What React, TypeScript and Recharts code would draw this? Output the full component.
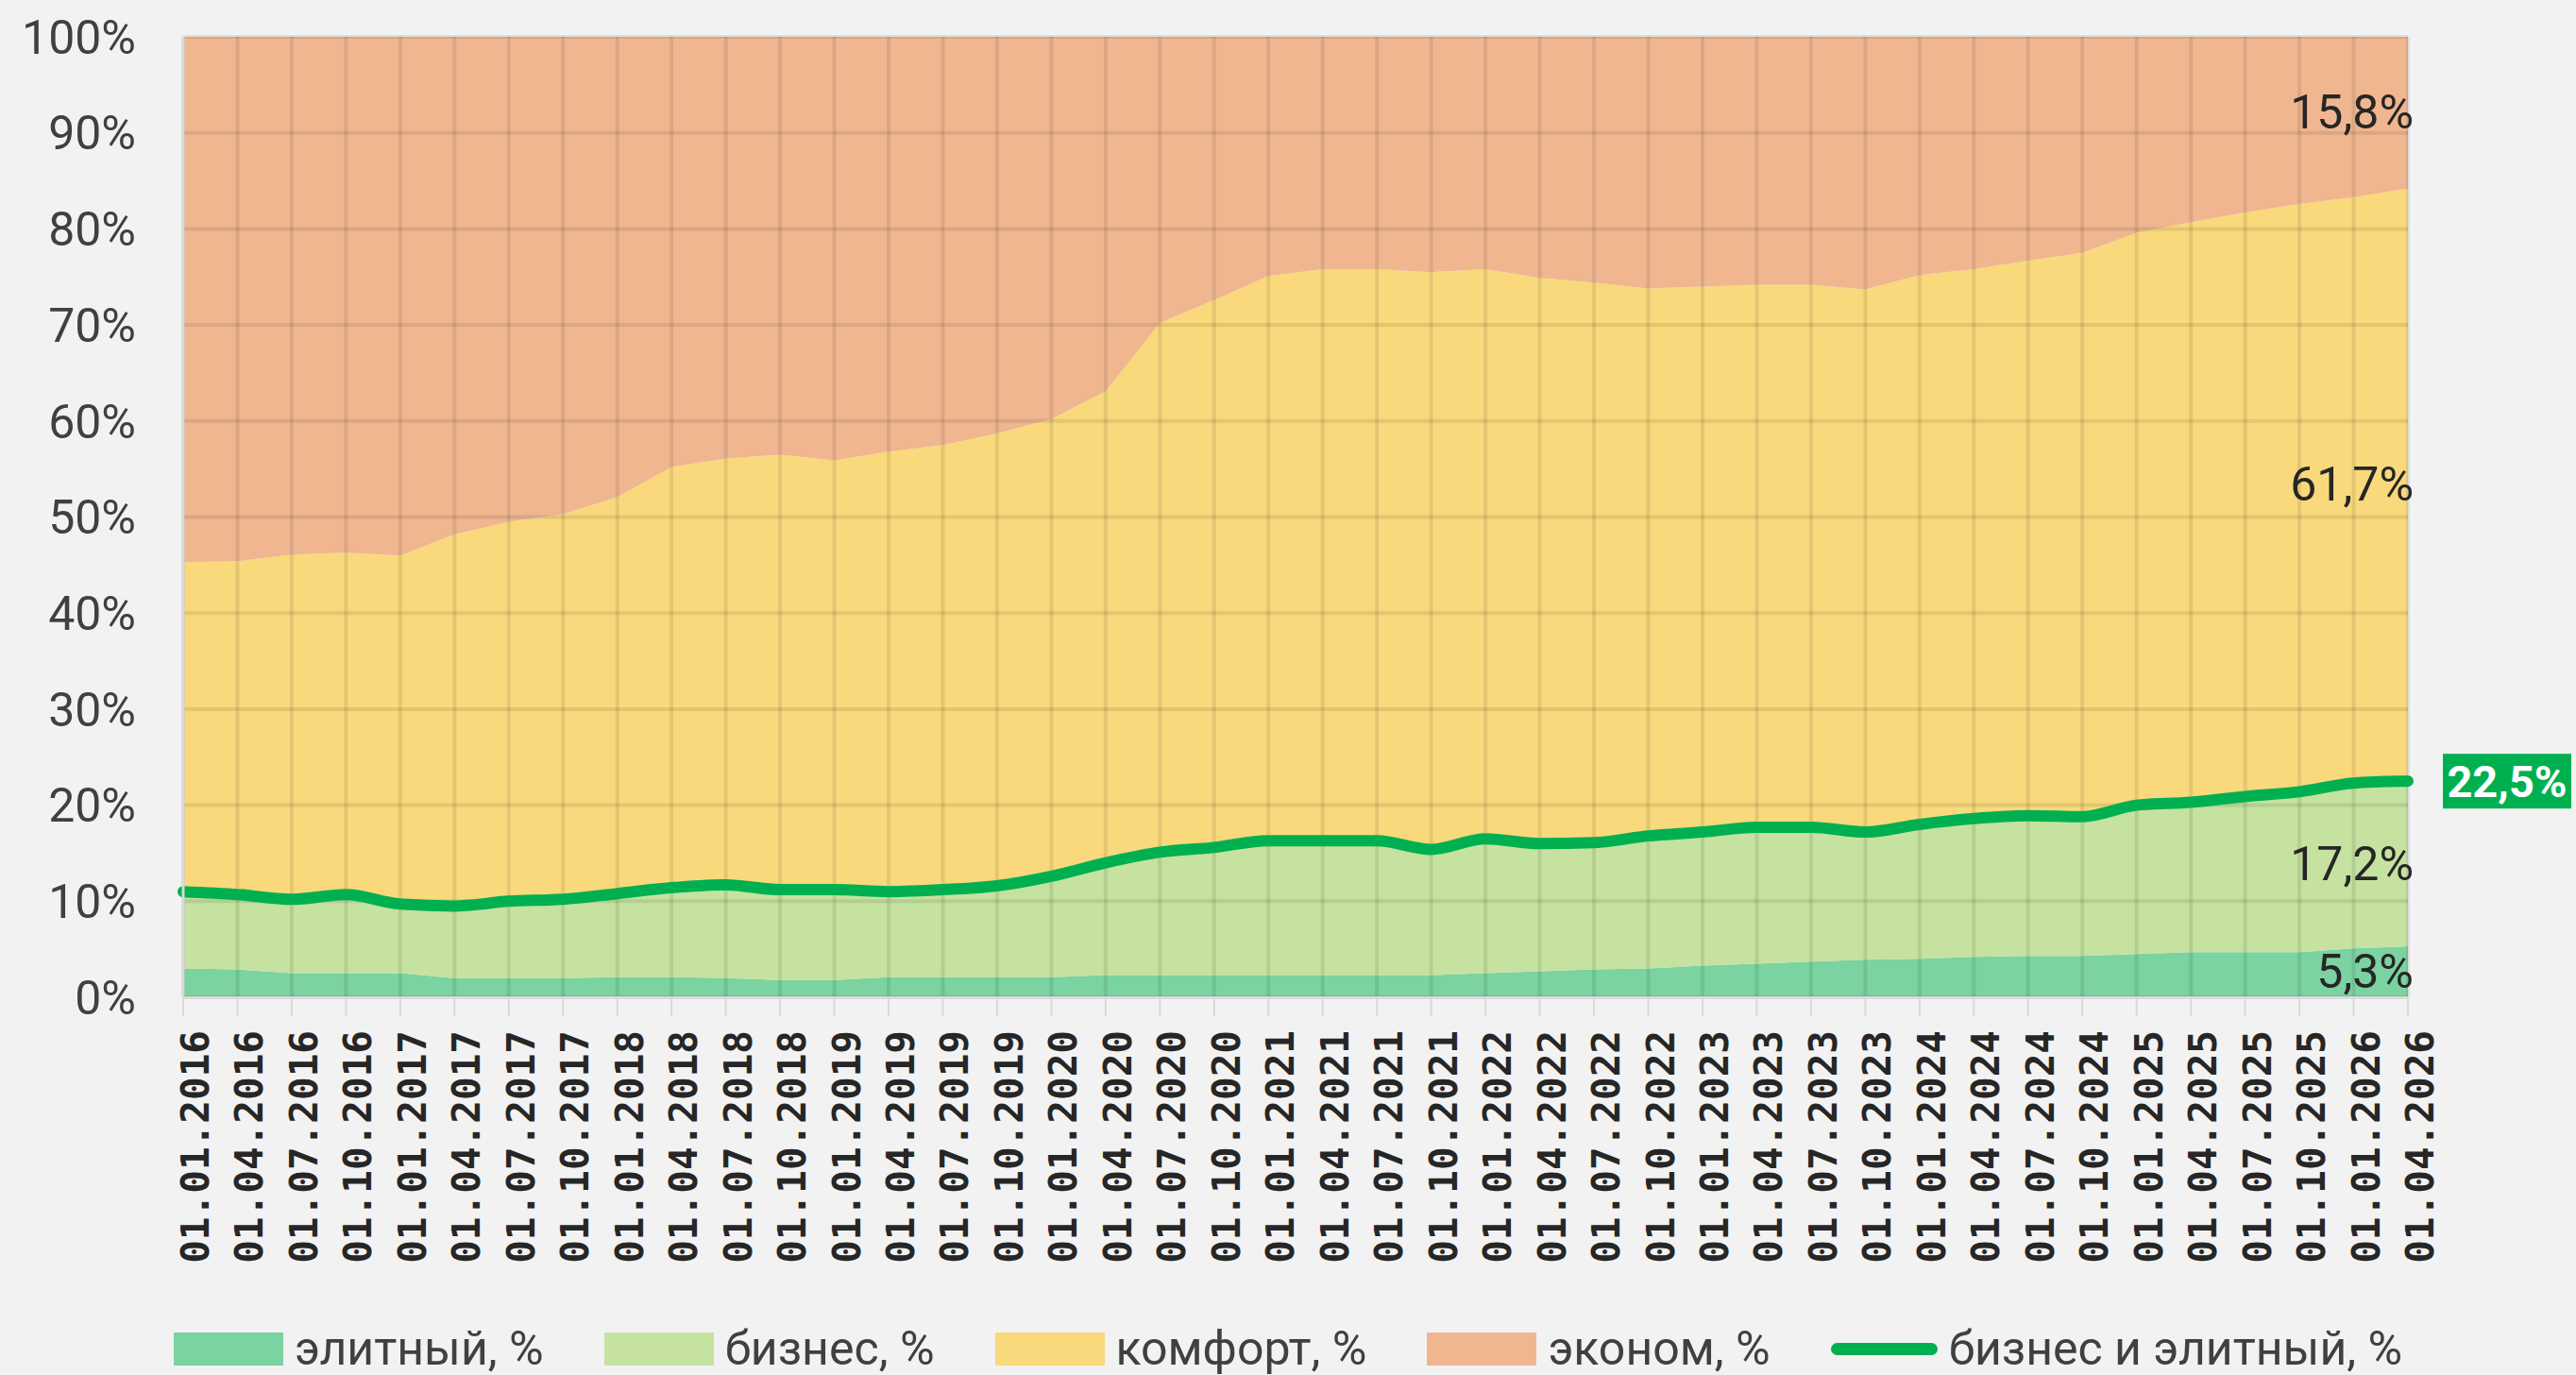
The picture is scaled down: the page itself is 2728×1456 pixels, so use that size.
import { Area, CartesianGrid, ComposedChart, Label, Legend, Line, ReferenceDot, XAxis, YAxis } from 'recharts';

const dates = [
  '01.01.2016', '01.04.2016', '01.07.2016', '01.10.2016',
  '01.01.2017', '01.04.2017', '01.07.2017', '01.10.2017',
  '01.01.2018', '01.04.2018', '01.07.2018', '01.10.2018',
  '01.01.2019', '01.04.2019', '01.07.2019', '01.10.2019',
  '01.01.2020', '01.04.2020', '01.07.2020', '01.10.2020',
  '01.01.2021', '01.04.2021', '01.07.2021', '01.10.2021',
  '01.01.2022', '01.04.2022', '01.07.2022', '01.10.2022',
  '01.01.2023', '01.04.2023', '01.07.2023', '01.10.2023',
  '01.01.2024', '01.04.2024', '01.07.2024', '01.10.2024',
  '01.01.2025', '01.04.2025', '01.07.2025', '01.10.2025',
  '01.01.2026', '01.04.2026',
];

const elite = [3.0, 2.9, 2.5, 2.5, 2.5, 2.0, 2.0, 2.0, 2.1, 2.1, 2.0, 1.8, 1.8, 2.1, 2.1, 2.1, 2.1, 2.3, 2.3, 2.3, 2.3, 2.3, 2.3, 2.3, 2.5, 2.7, 2.9, 3.0, 3.3, 3.5, 3.7, 3.9, 4.0, 4.2, 4.3, 4.3, 4.5, 4.7, 4.7, 4.7, 5.1, 5.3];
const business = [8.0, 7.8, 7.7, 8.2, 7.2, 7.5, 8.0, 8.2, 8.7, 9.3, 9.7, 9.4, 9.4, 8.9, 9.1, 9.5, 10.5, 11.7, 12.8, 13.3, 14.0, 14.0, 14.0, 13.1, 14.0, 13.3, 13.2, 13.8, 13.9, 14.2, 14.0, 13.3, 14.0, 14.4, 14.6, 14.5, 15.5, 15.6, 16.2, 16.7, 17.2, 17.2];
const comfort = [34.3, 34.7, 35.9, 35.6, 36.3, 38.7, 39.5, 40.1, 41.3, 43.8, 44.4, 45.3, 44.7, 45.8, 46.3, 47.1, 47.6, 49.1, 55.1, 57.0, 58.8, 59.5, 59.5, 60.1, 59.3, 58.9, 58.3, 57.0, 56.8, 56.5, 56.5, 56.5, 57.2, 57.2, 57.8, 58.7, 59.6, 60.4, 60.8, 61.2, 61.0, 61.7];
const economy = [54.7, 54.6, 53.9, 53.7, 54.0, 51.8, 50.5, 49.7, 47.9, 44.8, 43.9, 43.5, 44.1, 43.2, 42.5, 41.3, 39.8, 36.9, 29.8, 27.4, 24.9, 24.2, 24.2, 24.5, 24.2, 25.1, 25.6, 26.2, 26.0, 25.8, 25.8, 26.3, 24.8, 24.2, 23.3, 22.5, 20.4, 19.3, 18.3, 17.4, 16.7, 15.8];
const businessElite = [11.0, 10.7, 10.2, 10.7, 9.7, 9.5, 10.0, 10.2, 10.8, 11.4, 11.7, 11.2, 11.2, 11.0, 11.2, 11.6, 12.6, 14.0, 15.1, 15.6, 16.3, 16.3, 16.3, 15.4, 16.5, 16.0, 16.1, 16.8, 17.2, 17.7, 17.7, 17.2, 18.0, 18.6, 18.9, 18.8, 20.0, 20.3, 20.9, 21.4, 22.3, 22.5];

const yTicks = [0, 10, 20, 30, 40, 50, 60, 70, 80, 90, 100];

const seriesNames = {
  elite: 'элитный, %',
  business: 'бизнес, %',
  comfort: 'комфорт, %',
  economy: 'эконом, %',
  businessElite: 'бизнес и элитный, %',
};

const colors = {
  elite: '#7AD3A0',
  business: '#C5E2A0',
  comfort: '#F9D97C',
  economy: '#F0B690',
  businessElite: '#00B050',
};

const FONT = 'Roboto, "Noto Sans", sans-serif';

const rows = dates.map((date, i) => ({
  date,
  elite: elite[i],
  business: business[i],
  comfort: comfort[i],
  economy: economy[i],
  businessElite: businessElite[i],
}));

const last = dates.length - 1;
const fmt = (v: number) => v.toFixed(1).replace('.', ',') + '%';

// centre of each stacked band on the last date
const bandLabels = [
  { key: 'elite', value: elite[last], mid: elite[last] / 2 },
  { key: 'business', value: business[last], mid: elite[last] + business[last] / 2 },
  { key: 'comfort', value: comfort[last], mid: elite[last] + business[last] + comfort[last] / 2 },
  { key: 'economy', value: economy[last], mid: 100 - economy[last] / 2 },
];

const DateTick = ({ x, y, payload }: any) => (
  <g transform={`translate(${x},${y})`}>
    <text transform="rotate(-90)" textAnchor="end" dy={27} fontSize={41} fontWeight="bold" fontFamily='"DejaVu Sans Mono", monospace' fill="#262626">
      {payload.value}
    </text>
  </g>
);

const renderLineLabel = (props: any) => {
  const { x, y, index, value } = props;
  if (index !== last) return null;
  return (
    <g>
      <rect x={x + 37} y={y - 29} width={136} height={58} fill={colors.businessElite} />
      <text x={x + 105} y={y} textAnchor="middle" dominantBaseline="central" fill="#fff" fontWeight="bold" fontSize={47} fontFamily={FONT}>
        {fmt(value)}
      </text>
    </g>
  );
};

const LegendBox = () => {
  const items: { key: keyof typeof colors; line?: boolean }[] = [
    { key: 'elite' },
    { key: 'business' },
    { key: 'comfort' },
    { key: 'economy' },
    { key: 'businessElite', line: true },
  ];
  return (
    <div style={{ display: 'flex', justifyContent: 'center', alignItems: 'center', height: 56, fontFamily: FONT, fontSize: 50, color: '#404040' }}>
      {items.map((it, i) => (
        <div key={it.key} style={{ display: 'flex', alignItems: 'center', marginLeft: i === 0 ? 0 : 64 }}>
          {it.line ? (
            <div style={{ width: 113, height: 13, borderRadius: 7, background: colors[it.key] }} />
          ) : (
            <div style={{ width: 116, height: 35, background: colors[it.key] }} />
          )}
          <span style={{ marginLeft: 12 }}>{seriesNames[it.key]}</span>
        </div>
      ))}
    </div>
  );
};

export default function App() {
  return (
    <div style={{ position: 'absolute', left: 0, top: 0, width: 2728, height: 1456, background: '#F2F2F2' }}>
      <ComposedChart width={2728} height={1456} data={rows} margin={{ top: 39, right: 178, bottom: 0, left: 0 }}>
        <XAxis
          dataKey="date"
          interval={0}
          height={344}
          tickSize={20}
          tickMargin={15}
          tickLine={{ stroke: '#D9D9D9', strokeWidth: 2 }}
          axisLine={{ stroke: '#D9D9D9', strokeWidth: 2 }}
          tick={<DateTick />}
        />
        <YAxis
          domain={[0, 100]}
          ticks={yTicks}
          allowDataOverflow
          width={194}
          tickFormatter={(v) => `${v}%`}
          tickLine={false}
          tickSize={0}
          tickMargin={50}
          axisLine={{ stroke: '#D9D9D9', strokeWidth: 3 }}
          tick={{ fontSize: 50, fill: '#404040', fontFamily: FONT }}
        />
        <Area dataKey="elite" name={seriesNames.elite} stackId="s" type="linear" fill={colors.elite} fillOpacity={1} stroke="none" isAnimationActive={false} activeDot={false} />
        <Area dataKey="business" name={seriesNames.business} stackId="s" type="linear" fill={colors.business} fillOpacity={1} stroke="none" isAnimationActive={false} activeDot={false} />
        <Area dataKey="comfort" name={seriesNames.comfort} stackId="s" type="linear" fill={colors.comfort} fillOpacity={1} stroke="none" isAnimationActive={false} activeDot={false} />
        <Area dataKey="economy" name={seriesNames.economy} stackId="s" type="linear" fill={colors.economy} fillOpacity={1} stroke="none" isAnimationActive={false} activeDot={false} />
        <CartesianGrid stroke="#000" strokeOpacity={0.085} strokeWidth={4} zIndex={150} />
        {bandLabels.map((b) => (
          <ReferenceDot key={b.key} x={dates[last]} y={b.mid} r={1} fill="none" stroke="none">
            <Label
              content={({ viewBox }: any) => (
                <text
                  x={viewBox.x + viewBox.width / 2 + 6}
                  y={viewBox.y + viewBox.height / 2}
                  textAnchor="end"
                  dominantBaseline="central"
                  fontSize={50}
                  fontFamily={FONT}
                  fill="#262626"
                >
                  {fmt(b.value)}
                </text>
              )}
            />
          </ReferenceDot>
        ))}
        <Line
          dataKey="businessElite"
          name={seriesNames.businessElite}
          type="monotone"
          stroke={colors.businessElite}
          strokeWidth={12}
          strokeLinecap="round"
          dot={false}
          activeDot={false}
          isAnimationActive={false}
          label={renderLineLabel}
        />
        <Legend verticalAlign="bottom" height={56} wrapperStyle={{ left: 0, width: 2728 }} content={() => <LegendBox />} />
      </ComposedChart>
    </div>
  );
}
